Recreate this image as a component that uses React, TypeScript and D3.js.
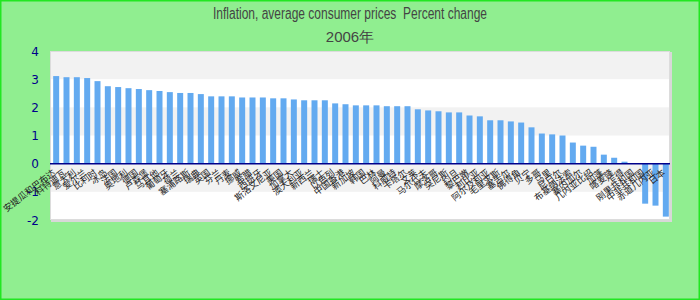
import React from "react";
import * as d3 from "d3";

const titleLine1 = "Inflation, average consumer prices  Percent change";
const titleLine2 = "2006年";

const categories: string[] = [
  "安提瓜和巴布达", "科特迪瓦", "意大利", "爱尔兰", "比利时", "冰岛", "法国", "奥地利", "德国", "卢森堡",
  "马耳他", "葡萄牙", "荷兰", "塞浦路斯", "瑞典", "英国", "芬兰", "丹麦", "挪威", "希腊",
  "西班牙", "斯洛文尼亚", "美国", "加拿大", "澳大利亚", "新西兰", "瑞士", "以色列", "中国香港", "新加坡",
  "韩国", "巴林", "阿曼", "科威特", "卡塔尔", "文莱", "马尔代夫", "摩洛哥", "突尼斯", "约旦",
  "黎巴嫩", "利比亚", "阿尔及利亚", "毛里求斯", "塞舌尔", "佛得角", "贝宁", "多哥", "马里", "尼日尔",
  "布基纳法索", "塞内加尔", "几内亚比绍", "加蓬", "喀麦隆", "乍得", "刚果共和国", "中非共和国", "赤道几内亚", "日本",
];

const values: number[] = [
  3.11, 3.07, 3.07, 3.04, 2.93, 2.75, 2.72, 2.68, 2.65, 2.61,
  2.58, 2.54, 2.51, 2.51, 2.47, 2.39, 2.39, 2.39, 2.35, 2.35,
  2.35, 2.32, 2.32, 2.28, 2.25, 2.25, 2.25, 2.14, 2.11, 2.07,
  2.07, 2.07, 2.04, 2.04, 2.04, 1.93, 1.89, 1.86, 1.82, 1.82,
  1.71, 1.68, 1.54, 1.54, 1.5, 1.46, 1.29, 1.07, 1.04, 1.0,
  0.75, 0.64, 0.6, 0.32, 0.21, 0.07, 0, -1.42, -1.49, -1.88,
];

const yTicks: number[] = [-2, -1, 0, 1, 2, 3, 4];

export default function App() {
  const W = 700, H = 300;
  const plot = { left: 50, right: 670, top: 51, bottom: 220 };

  const x = d3
    .scaleBand<string>()
    .domain(categories)
    .range([plot.left + 1, plot.right + 1])
    .paddingInner(0.42)
    .paddingOuter(0.21);
  const y = d3.scaleLinear().domain([-2, 4]).range([plot.bottom, plot.top]);

  const greyBands = yTicks.slice(0, -1).filter((t) => (t + 2) % 2 === 1);
  const titleFont = "'Liberation Sans Narrow', 'Arial Narrow', 'Liberation Sans', Arial, sans-serif";

  return (
    <svg width={W} height={H} style={{ position: "absolute", left: 0, top: 0 }}>
      <rect x={0} y={0} width={W} height={H} fill="#90ee90" />
      <rect x={0.75} y={0.75} width={W - 1.5} height={H - 1.5} fill="none" stroke="#22e622" strokeWidth={1.5} />

      <text x={350} y={18.5} textAnchor="middle" fontFamily={titleFont} fontSize={16} fill="#444" textLength={274} lengthAdjust="spacingAndGlyphs" style={{ whiteSpace: "pre" }}>
        {titleLine1}
      </text>
      <text x={350} y={42} textAnchor="middle" fontFamily={titleFont} fontSize={15} fill="#444">
        {titleLine2}
      </text>

      <rect x={plot.left + 1} y={plot.top + 1} width={plot.right - plot.left + 1} height={plot.bottom - plot.top + 1} fill="#d8d8d8" />
      <rect x={plot.left} y={plot.top} width={plot.right - plot.left} height={plot.bottom - plot.top} fill="#ffffff" />

      {greyBands.map((t) => (
        <rect key={t} x={plot.left} y={y(t + 1)} width={plot.right - plot.left} height={y(t) - y(t + 1)} fill="#f2f2f2" />
      ))}
      <rect x={plot.left + 0.5} y={plot.top + 0.5} width={plot.right - plot.left - 1} height={plot.bottom - plot.top - 1} fill="none" stroke="#dcdcdc" strokeWidth={1} />

      {values.map((v, i) => {
        const c = categories[i];
        const y0 = y(0), y1 = y(v);
        return (
          <rect key={c} x={x(c)} y={Math.min(y0, y1)} width={x.bandwidth()} height={Math.abs(y1 - y0)} fill="#63aaf0" />
        );
      })}

      <line x1={plot.left} x2={plot.right} y1={y(0)} y2={y(0)} stroke="#00008b" strokeWidth={1.5} />

      {yTicks.map((t) => (
        <text key={t} x={39} y={y(t) + 4.5} textAnchor="end" fontFamily="'DejaVu Sans', sans-serif" fontSize={12} fill="#00008b">
          {t}
        </text>
      ))}

      {categories.map((c) => {
        const cx = (x(c) ?? 0) + x.bandwidth() / 2;
        const cy = y(0) + 10;
        return (
          <text key={c} x={cx} y={cy} textAnchor="end" transform={`rotate(-38, ${cx}, ${cy})`} fontFamily="'Noto Sans CJK SC', sans-serif" fontSize={9} fill="#222">
            {c}
          </text>
        );
      })}
    </svg>
  );
}
